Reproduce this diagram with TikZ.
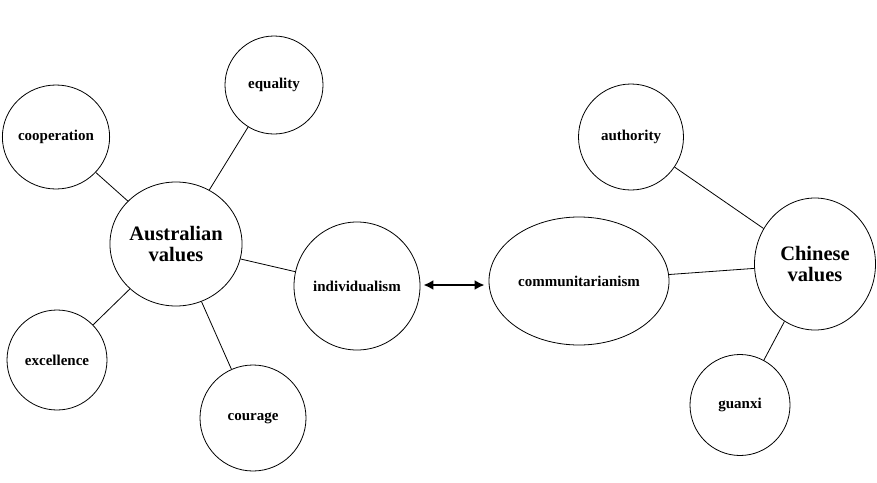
\documentclass[tikz,border=0pt]{standalone}
\usepackage{fontspec}
\setmainfont{Liberation Serif}
\usetikzlibrary{shapes.geometric,arrows.meta}

\tikzset{every picture/.style={line width=0.8pt}}
\tikzset{
  bubble/.style={draw, ellipse, inner sep=0pt, font=\bfseries\fontsize{15}{17}\selectfont, align=center},
  bigbubble/.style={bubble, font=\bfseries\fontsize{20.5}{21.5}\selectfont}
}

\begin{document}
\begin{tikzpicture}[x=1pt,y=1pt,yscale=-1,xscale=1]
\useasboundingbox (0,0) rectangle (877,482);

% Australian side
\node [bigbubble, minimum width=120, minimum height=124] (austr) at (176,244) {Australian\\values};
\node [bubble, minimum width=98, minimum height=98] (equal) at (274,85) {equality};
\node [bubble, minimum width=104, minimum height=104] (coop) at (56,137) {cooperation};
\node [bubble, minimum width=100, minimum height=100] (excel) at (57,360) {excellence};
\node [bubble, minimum width=106, minimum height=106] (cour) at (253,418) {courage};
\node [bubble, minimum width=126, minimum height=128] (indiv) at (357,286) {individualism};

% Chinese side
\node [bubble, minimum width=180, minimum height=128] (commu) at (579,281) {communitarianism};
\node [bigbubble, minimum width=121, minimum height=132] (chin) at (815,264) {Chinese\\values};
\node [bubble, minimum width=105, minimum height=106] (auth) at (631,137) {authority};
\node [bubble, minimum width=100, minimum height=101] (guan) at (740,405) {guanxi};

% links
\draw (austr) -- (equal);
\draw (austr) -- (coop);
\draw (austr) -- (excel);
\draw (austr) -- (cour);
\draw (austr) -- (indiv);
\draw (chin) -- (auth);
\draw (chin) -- (commu);
\draw (chin) -- (guan);

% double arrow
\draw [line width=2.2pt, {Latex[length=10pt,width=10pt]}-{Latex[length=10pt,width=10pt]}, shorten <=3pt, shorten >=4pt] (indiv.east |- 0,285) -- (commu.west |- 0,285);

\end{tikzpicture}
\end{document}
